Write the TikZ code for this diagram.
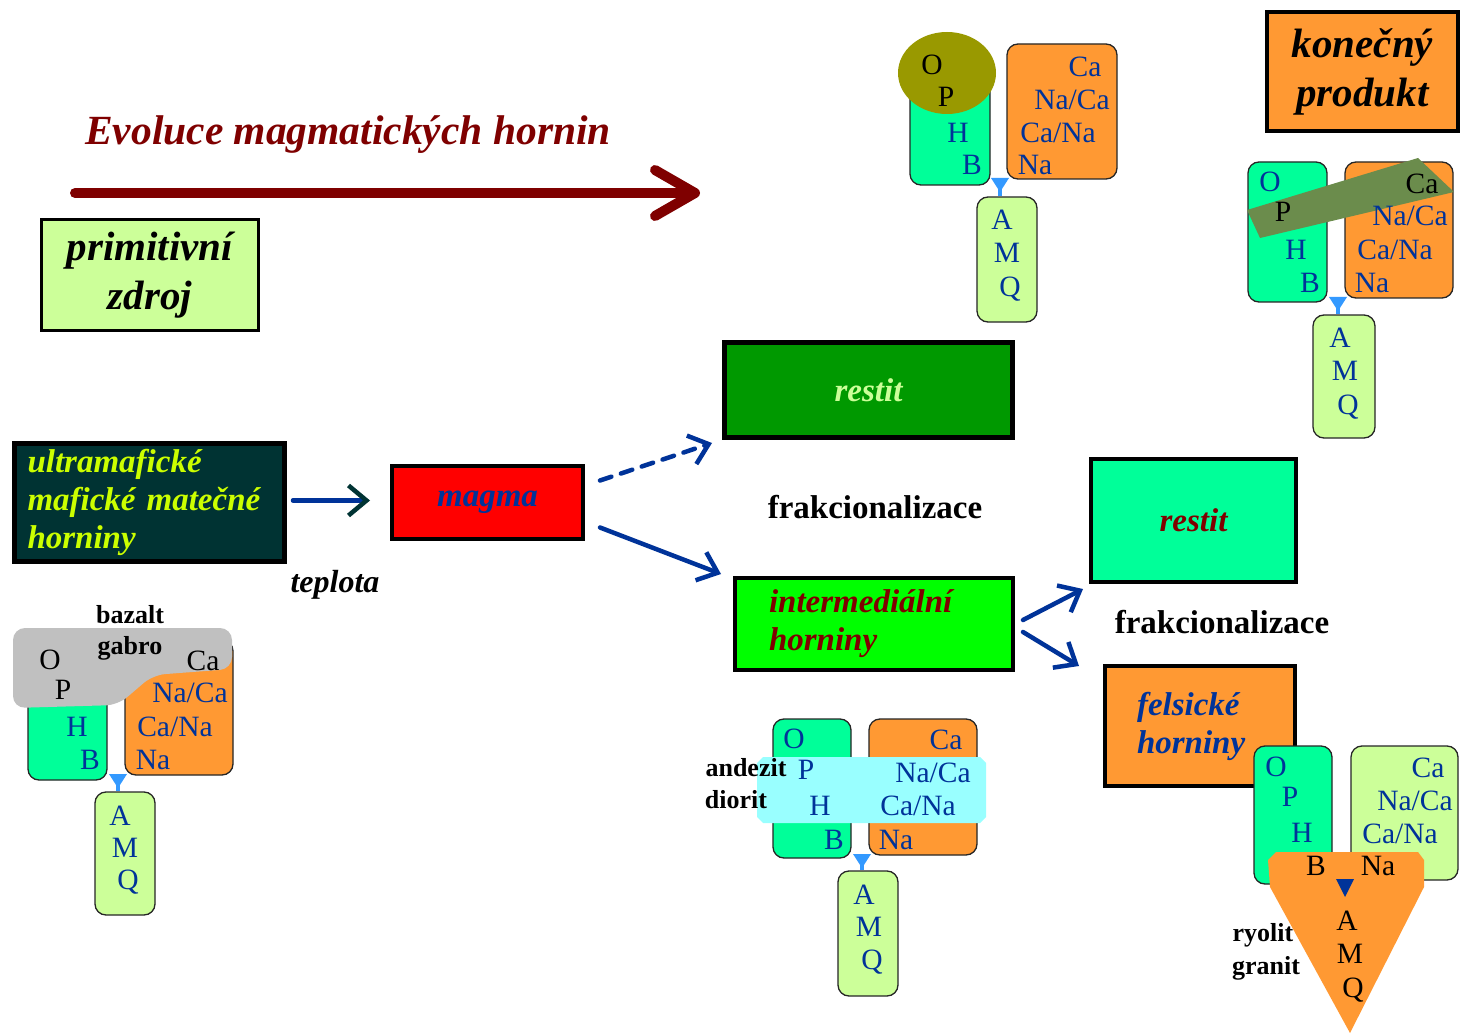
\documentclass[tikz,border=0pt]{standalone}
\usepackage{fontspec}
\setmainfont{Liberation Serif}
\usetikzlibrary{arrows.meta,shapes.geometric,calc}
\definecolor{dred}{HTML}{7F0000}
\definecolor{mblue}{HTML}{003399}
\definecolor{lgreen}{HTML}{CCFF99}
\definecolor{dteal}{HTML}{003333}
\definecolor{ygreen}{HTML}{CCFF00}
\definecolor{gdark}{HTML}{009900}
\definecolor{gbright}{HTML}{00FF00}
\definecolor{mint}{HTML}{00FF99}
\definecolor{orng}{HTML}{FF9933}
\definecolor{olivec}{HTML}{999900}
\definecolor{bandc}{HTML}{6B8C4C}
\definecolor{grayc}{HTML}{C0C0C0}
\definecolor{cyanc}{HTML}{99FFFF}
\definecolor{tblue}{HTML}{3399FF}
\newcommand\mfont{\fontsize{29.5}{32}\selectfont}
\newcommand\btfont{\fontsize{26}{33}\selectfont\bfseries}
\newcommand\frfont{\fontsize{33}{38}\selectfont\bfseries}
\newcommand\bifont{\fontsize{33}{38}\selectfont\bfseries\itshape}
\newcommand\bigfont{\fontsize{41}{49}\selectfont\bfseries\itshape}
\newcommand\titfont{\fontsize{41.5}{49}\selectfont\bfseries\itshape}
\tikzset{
  hbox/.style={draw=black, line width=4pt, inner sep=0pt},
  mbox/.style={draw=black!85, line width=1.3pt, rounded corners=11pt, inner sep=0pt},
  ml/.style={font=\mfont, text=mblue, inner sep=0pt, text height=19pt, text depth=0pt},
  mk/.style={ml, text=black},
  bt/.style={font=\btfont, inner sep=0pt},
  flow/.style={draw=mblue, line width=4.5pt, line cap=round, -{Straight Barb[length=18pt,width=30pt,line width=4.5pt]}},
  stem/.style={draw=tblue, line width=3.5pt},
}
\begin{document}
\begin{tikzpicture}[x=1pt,y=-1pt]
\useasboundingbox (0,0) rectangle (1460,1035);
\fill[white] (0,0) rectangle (1460,1035);

% title and evolution arrow
\node[font=\titfont, text=dred, anchor=base west, inner sep=0pt] (title) at (85,145) {Evoluce magmatických hornin};
\coordinate (evS) at (75,193);
\coordinate (evE) at (700,193);
\draw[dred, line width=10pt, line cap=round, -{Straight Barb[length=40pt,width=46pt,round]}] (evS) -- (evE);

% main boxes
\node[hbox, line width=3pt, fill=lgreen, minimum width=217, minimum height=111, font=\bigfont, align=center] (prim) at (150,275) {primitivní\\zdroj};
\node[hbox, line width=5pt, fill=dteal, minimum width=270, minimum height=118, font=\bifont, text=ygreen, align=left, text width=244, inner xsep=13pt] (ult) at (149.5,502.5) {ultramafické\\mafické matečné\\horniny};
\node[hbox, fill=red, minimum width=191, minimum height=73, font=\bifont, text=mblue] (magma) at (487.5,502.5) {magma};
\node[hbox, line width=5pt, fill=gdark, minimum width=288, minimum height=95, font=\bifont, text=lgreen] (r1) at (868.5,390) {restit};
\node[hbox, fill=gbright, minimum width=278, minimum height=92, font=\bifont, text=dred, align=left, text width=210, inner xsep=34pt] (inter) at (874,624) {intermediální\\horniny};
\node[hbox, fill=mint, minimum width=205, minimum height=123, font=\bifont, text=dred] (r2) at (1193.5,520.5) {restit};
\node[hbox, fill=orng, minimum width=190, minimum height=120, font=\bifont, text=mblue, align=left, text width=126, inner xsep=32pt] (fel) at (1200,726) {felsické\\horniny};
\node[hbox, fill=orng, minimum width=191, minimum height=119, font=\bigfont, align=center] (konec) at (1362.5,71.5) {konečný\\produkt};

\node[font=\fontsize{32}{36}\selectfont\bfseries\itshape, inner sep=0pt] (tep) at (335,585) {teplota};
\node[font=\frfont, inner sep=0pt] (fr1) at (875,507) {frakcionalizace};
\node[font=\frfont, inner sep=0pt] (fr2) at (1222,622) {frakcionalizace};

% flow arrows
\draw[flow, -{Straight Barb[length=18pt,width=30pt,line width=4.5pt,color=dteal]}] ($(ult.east)+(6,-2)$) -- ($(magma.west)+(-20,-2)$);
\draw[flow, dash pattern=on 12pt off 10pt] ($(magma.east)+(15,-22)$) -- ($(r1.south west)+(-10,3)$);
\draw[flow] ($(magma.east)+(15,25)$) -- ($(inter.north west)+(-12,-2)$);
\draw[flow] ($(inter.east)+(8,-4)$) -- ($(r2.south west)+(-6,5)$);
\draw[flow] ($(inter.east)+(8,8)$) -- ($(fel.north west)+(-24,2)$);

% ---------- group A (top middle)
\node[mbox, fill=mint, minimum width=80, minimum height=105] (gA) at (950,132.5) {};
\node[mbox, fill=orng, minimum width=110, minimum height=135] (oA) at (1062,111.5) {};
\node[mbox, fill=lgreen, minimum width=60, minimum height=125] (qA) at (1007,259.5) {};
\node[ellipse, fill=olivec, minimum width=98, minimum height=82, inner sep=0pt] (eA) at (947,73) {};
\coordinate (tA) at (1000,186);
\draw[stem] (tA) -- (tA |- qA.north);
\fill[tblue] (991,178) -- (1009,178) -- (1000,192) -- cycle;
\node[mk] (aO) at (932,65) {O};
\node[mk] (aP) at (946,97) {P};
\node[ml] (aH) at (958,133) {H};
\node[ml] (aB) at (972,165) {B};
\node[ml] (aC1) at (1085,67) {Ca};
\node[ml] (aC2) at (1072,100) {Na/Ca};
\node[ml] (aC3) at (1058,133) {Ca/Na};
\node[ml] (aC4) at (1035,165) {Na};
\node[ml] (aA) at (1002,220) {A};
\node[ml] (aM) at (1007,253) {M};
\node[ml] (aQ) at (1010,287) {Q};

% ---------- group B (top right)
\node[mbox, fill=mint, minimum width=79, minimum height=140] (gB) at (1287.5,232) {};
\node[mbox, fill=orng, minimum width=108, minimum height=136] (oB) at (1399,230) {};
\node[mbox, fill=lgreen, minimum width=62, minimum height=123] (qB) at (1344,376.5) {};
\fill[bandc] (1247,210) -- (1418,158) -- (1454,192) -- (1260,238) -- cycle;
\coordinate (tB) at (1338,305);
\draw[stem] (tB) -- (tB |- qB.north);
\fill[tblue] (1329,297) -- (1347,297) -- (1338,311) -- cycle;
\node[ml] (bO) at (1270,182) {O};
\node[mk] (bP) at (1283,212) {P};
\node[ml] (bH) at (1296,250) {H};
\node[ml] (bB) at (1310,283) {B};
\node[mk] (bC1) at (1422,184) {Ca};
\node[ml] (bC2) at (1410,216) {Na/Ca};
\node[ml] (bC3) at (1395,250) {Ca/Na};
\node[ml] (bC4) at (1372,283) {Na};
\node[ml] (bA) at (1340,338) {A};
\node[ml] (bM) at (1345,371) {M};
\node[ml] (bQ) at (1348,405) {Q};

% ---------- group C (bottom left)
\node[mbox, fill=mint, minimum width=79, minimum height=140] (gC) at (67.5,710) {};
\node[mbox, fill=orng, minimum width=108, minimum height=135] (oC) at (179,707.5) {};
\node[mbox, fill=lgreen, minimum width=60, minimum height=123] (qC) at (125,853.5) {};
\fill[grayc, rounded corners=12pt] (13,628) -- (232,628) -- (232,669) -- (153,675) -- (118,705) -- (13,708) -- cycle;
\coordinate (tC) at (118,782);
\draw[stem] (tC) -- (tC |- qC.north);
\fill[tblue] (109,774) -- (127,774) -- (118,788) -- cycle;
\node[bt] (baz) at (130,615) {bazalt};
\node[bt] (gab) at (130,648) {gabro};
\node[mk] (cO) at (50,660) {O};
\node[mk] (cP) at (63,690) {P};
\node[ml] (cH) at (77,727) {H};
\node[ml] (cB) at (90,760) {B};
\node[mk] (cC1) at (203,661) {Ca};
\node[ml] (cC2) at (190,693) {Na/Ca};
\node[ml] (cC3) at (175,727) {Ca/Na};
\node[ml] (cC4) at (153,760) {Na};
\node[ml] (cA) at (120,816) {A};
\node[ml] (cM) at (125,848) {M};
\node[ml] (cQ) at (128,880) {Q};

% ---------- group D (bottom middle)
\node[mbox, fill=mint, minimum width=78, minimum height=139] (gD) at (812,788.5) {};
\node[mbox, fill=orng, minimum width=108, minimum height=136] (oD) at (923,787) {};
\node[mbox, fill=lgreen, minimum width=60, minimum height=125] (qD) at (868,933.5) {};
\fill[cyanc] (763,757) -- (980,757) -- (986,763) -- (986,817) -- (980,823) -- (763,823) -- (757,817) -- (757,763) -- cycle;
\coordinate (tD) at (862,862);
\draw[stem] (tD) -- (tD |- qD.north);
\fill[tblue] (853,854) -- (871,854) -- (862,868) -- cycle;
\node[bt] (and) at (746,768) {andezit};
\node[bt] (dio) at (736,800) {diorit};
\node[ml] (dO) at (794,739) {O};
\node[ml] (dP) at (806,770) {P};
\node[ml] (dH) at (820,806) {H};
\node[ml] (dB) at (834,840) {B};
\node[ml] (dC1) at (946,740) {Ca};
\node[ml] (dC2) at (933,773) {Na/Ca};
\node[ml] (dC3) at (918,806) {Ca/Na};
\node[ml] (dC4) at (896,840) {Na};
\node[ml] (dA) at (864,895) {A};
\node[ml] (dM) at (869,927) {M};
\node[ml] (dQ) at (872,960) {Q};

% ---------- group E (bottom right)
\node[mbox, fill=mint, minimum width=78, minimum height=138] (gE) at (1293,815) {};
\node[mbox, fill=lgreen, minimum width=107, minimum height=134] (oE) at (1404.5,813) {};
\fill[orng] (1270,887) -- (1268,860) -- (1276,852) -- (1418,852) -- (1424,860) -- (1424,887) -- (1350,1033) -- cycle;
\fill[mblue] (1336,879) -- (1354,879) -- (1345,897) -- cycle;
\node[bt] (ryo) at (1263,935) {ryolit};
\node[bt] (gra) at (1266,968) {granit};
\node[ml] (eO) at (1276,767) {O};
\node[ml] (eP) at (1290,797) {P};
\node[ml] (eH) at (1302,833) {H};
\node[mk] (eB) at (1316,866) {B};
\node[ml] (eC1) at (1428,768) {Ca};
\node[ml] (eC2) at (1415,801) {Na/Ca};
\node[ml] (eC3) at (1400,834) {Ca/Na};
\node[mk] (eC4) at (1378,866) {Na};
\node[mk] (eA) at (1347,921) {A};
\node[mk] (eM) at (1350,954) {M};
\node[mk] (eQ) at (1353,988) {Q};
\end{tikzpicture}
\end{document}
